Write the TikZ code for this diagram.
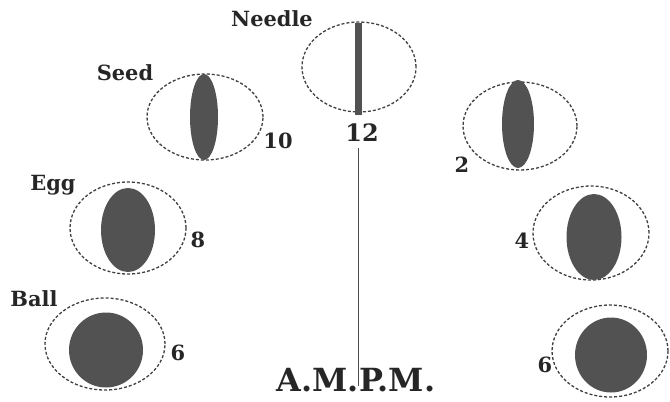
\documentclass[tikz,border=0pt]{standalone}
\usepackage{fontspec}
\setmainfont{DejaVu Serif}
\usetikzlibrary{shapes.geometric}

\tikzset{
  dial/.style={ellipse,draw=black!75,line width=1.3bp,dash pattern=on 3bp off 2bp,inner sep=0pt},
  pupil/.style={ellipse,fill=black!68,inner sep=0pt},
  lbl/.style={font=\bfseries\fontsize{21}{21}\selectfont,text=black!85,inner sep=0pt},
  hour/.style={font=\bfseries\fontsize{21}{21}\selectfont,text=black!85,inner sep=0pt}
}

\begin{document}
\begin{tikzpicture}[x=1bp,y=-1bp]
\useasboundingbox (0,0) rectangle (670,401);
% noon
\node[dial,minimum width=114bp,minimum height=90bp] (needleo) at (359,67) {};
\node[fill=black!68,minimum width=7bp,minimum height=92bp,inner sep=0pt] (needle) at (358,69) {};
\node[lbl] (needlet) at (272,19) {Needle};
\node[hour,font=\bfseries\fontsize{24}{24}\selectfont] (twelve) at (362,133) {12};
% left side, A.M.
\node[dial,minimum width=116bp,minimum height=86bp] (seedo) at (205,117) {};
\node[pupil,minimum width=28bp,minimum height=86bp] (seed) at (204,117) {};
\node[lbl] (seedt) at (125,73) {Seed};
\node[hour] (ten) at (278,141) {10};
\node[dial,minimum width=116bp,minimum height=92bp] (eggo) at (128,228) {};
\node[pupil,minimum width=54bp,minimum height=84bp] (egg) at (128,230) {};
\node[lbl] (eggt) at (53,185) {Egg};
\node[hour] (eight) at (198,240) {8};
\node[dial,minimum width=120bp,minimum height=92bp] (ballo) at (105,344) {};
\node[pupil,minimum width=74bp,minimum height=75bp] (ball) at (106,350) {};
\node[lbl] (ballt) at (34,299) {Ball};
\node[hour] (sixam) at (178,353) {6};
% right side, P.M.
\node[dial,minimum width=114bp,minimum height=88bp] (twoo) at (520,126) {};
\node[pupil,minimum width=32bp,minimum height=88bp] (two) at (518,124) {};
\node[hour] (twot) at (462,165) {2};
\node[dial,minimum width=116bp,minimum height=94bp] (fouro) at (591,233) {};
\node[pupil,minimum width=55bp,minimum height=86bp] (four) at (594,237) {};
\node[hour] (fourt) at (522,241) {4};
\node[dial,minimum width=116bp,minimum height=92bp] (sixo) at (610,351) {};
\node[pupil,minimum width=72bp,minimum height=75bp] (six) at (611,355) {};
\node[hour] (sixpm) at (545,365) {6};
% divider
\node[lbl,font=\bfseries\fontsize{32}{32}\selectfont] (ampm) at (356,380) {A.M.P.M.};
\draw[black!70,line width=0.8bp,shorten <=6bp,shorten >=-6bp] (needle |- twelve.south) -- (needle |- ampm.center);
\end{tikzpicture}
\end{document}
